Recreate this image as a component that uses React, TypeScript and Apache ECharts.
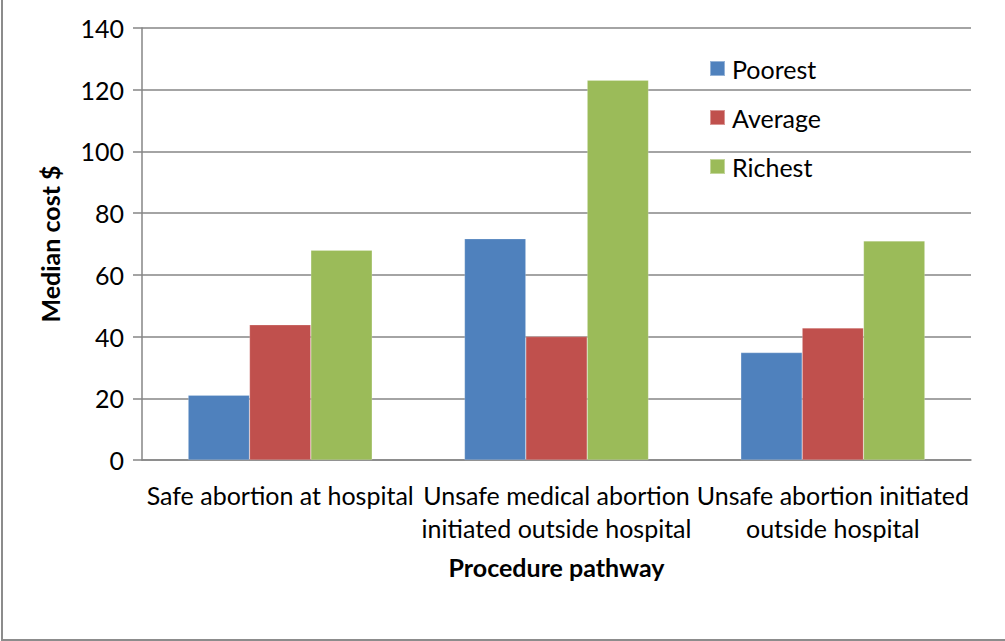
import React, { useEffect, useRef } from "react";
import * as echarts from "echarts";

const categories = [
  "Safe abortion at hospital",
  "Unsafe medical abortion\ninitiated outside hospital",
  "Unsafe abortion initiated\noutside hospital",
];
const poorest = [21, 71.7, 34.8];
const average = [43.8, 40, 42.8];
const richest = [68, 123.1, 71];
const seriesNames = ["Poorest", "Average", "Richest"];
const colors = ["#4F81BD", "#C0504D", "#9BBB59"];

const FONT = "Lato";

export default function App() {
  const ref = useRef<HTMLDivElement>(null);
  useEffect(() => {
    if (!ref.current) return;
    const chart = echarts.init(ref.current, undefined, { renderer: "svg" });
    const data = [poorest, average, richest];
    chart.setOption({
      animation: false,
      backgroundColor: "#ffffff",
      textStyle: { fontFamily: FONT },
      grid: { left: 142, right: 34, top: 28, bottom: 181, containLabel: false },
      legend: {
        orient: "vertical",
        left: 704,
        top: 51,
        itemWidth: 15,
        itemHeight: 15,
        itemGap: 24,
        icon: "rect",
        textStyle: { fontFamily: FONT, fontSize: 25, color: "#000", lineHeight: 24, padding: [0, 0, 0, 2] },
        data: seriesNames,
      },
      xAxis: {
        type: "category",
        data: categories,
        name: "Procedure pathway",
        nameLocation: "middle",
        nameGap: 94,
        nameTextStyle: { fontFamily: FONT, fontSize: 25, fontWeight: "bold", color: "#000" },
        axisLine: { lineStyle: { color: "#868686", width: 1.5 } },
        axisTick: { show: false },
        axisLabel: {
          interval: 0,
          fontFamily: FONT,
          fontSize: 25,
          color: "#000",
          lineHeight: 33,
          margin: 18,
          align: "center",
        },
      },
      yAxis: {
        type: "value",
        min: 0,
        max: 140,
        interval: 20,
        name: "Median cost $",
        nameLocation: "middle",
        nameGap: 80,
        nameTextStyle: { fontFamily: FONT, fontSize: 25, fontWeight: "bold", color: "#000" },
        axisLine: { show: true, lineStyle: { color: "#868686", width: 1.5 } },
        axisTick: { show: true, length: 9, lineStyle: { color: "#868686", width: 1.5 } },
        axisLabel: { fontFamily: FONT, fontSize: 25, color: "#000", margin: 18 },
        splitLine: { show: true, lineStyle: { color: "#868686", width: 1.5 } },
      },
      series: seriesNames.map((n, i) => ({
        name: n,
        type: "bar",
        data: data[i],
        barGap: "0%",
        barCategoryGap: "33.4%",
        itemStyle: { color: colors[i], borderColor: "rgba(255,255,255,0.4)", borderWidth: 0.5 },
      })),
      graphic: [
        { type: "line", shape: { x1: 2, y1: 0, x2: 2, y2: 640 }, style: { stroke: "#8c8c8c", lineWidth: 2 } },
        { type: "line", shape: { x1: 1, y1: 640, x2: 1005, y2: 640 }, style: { stroke: "#8c8c8c", lineWidth: 2 } },
      ],
    });
    return () => chart.dispose();
  }, []);
  return (
    <div
      ref={ref}
      style={{ position: "fixed", left: 0, top: 0, width: 1005, height: 641, background: "#fff" }}
    />
  );
}
